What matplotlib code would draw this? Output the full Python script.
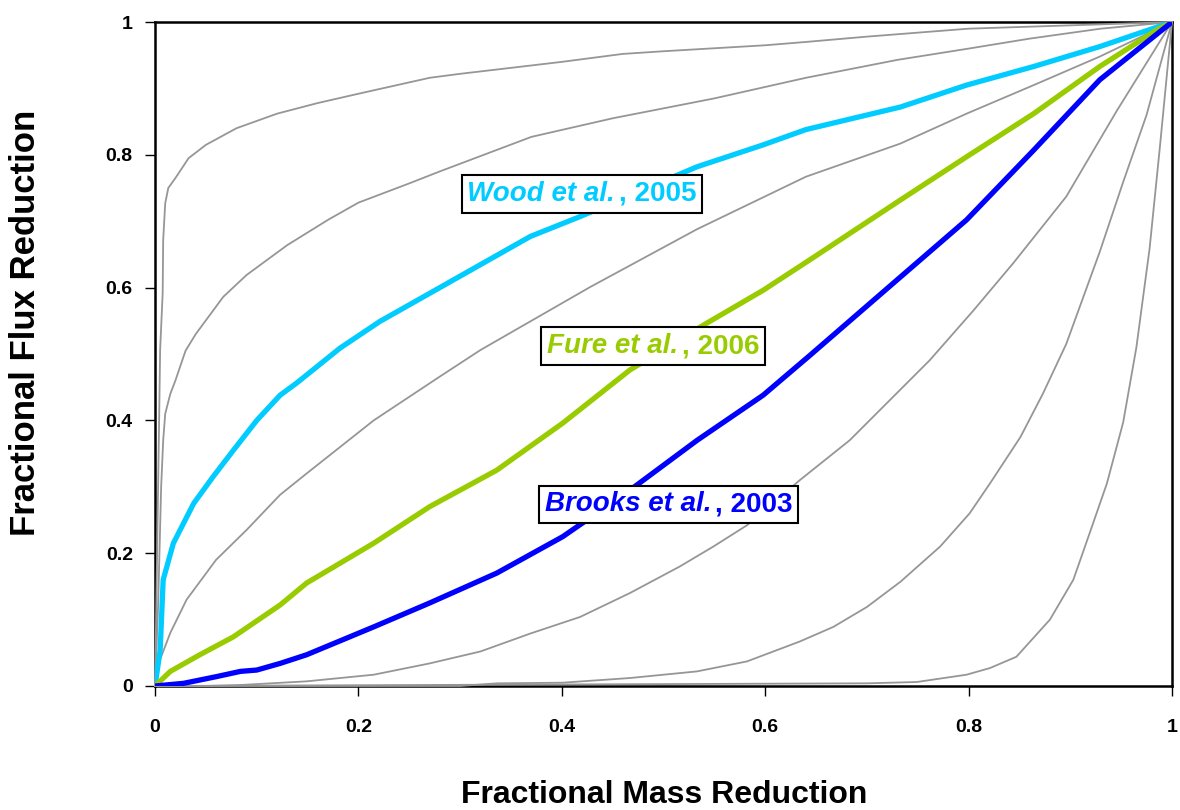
import matplotlib
matplotlib.use('Agg')
import matplotlib.pyplot as plt
from matplotlib.offsetbox import TextArea, HPacker, AnnotationBbox

plt.rcParams['font.family'] = ['Liberation Sans', 'DejaVu Sans']
plt.rcParams['font.weight'] = 'bold'

# gray reference curves
g1_x = [0, 0.002, 0.004, 0.005, 0.0075, 0.008, 0.010, 0.013, 0.02, 0.033, 0.05, 0.08, 0.12, 0.16, 0.2,
        0.27, 0.3, 0.4, 0.46, 0.5, 0.6, 0.64, 0.7, 0.8, 0.9, 0.96, 1.0]
g1_y = [0, 0.2, 0.4, 0.506, 0.592, 0.672, 0.727, 0.75, 0.765, 0.795, 0.815, 0.84, 0.862, 0.878, 0.892,
        0.916, 0.922, 0.94, 0.952, 0.956, 0.965, 0.97, 0.978, 0.99, 0.995, 0.998, 1.0]

g2_x = [0, 0.003, 0.006, 0.008, 0.01, 0.015, 0.02, 0.03, 0.04, 0.067, 0.09, 0.13, 0.17, 0.2, 0.25,
        0.28, 0.37, 0.45, 0.55, 0.64, 0.73, 0.8, 0.86, 0.93, 1.0]
g2_y = [0, 0.12, 0.30, 0.37, 0.41, 0.44, 0.46, 0.505, 0.53, 0.586, 0.619, 0.664, 0.702, 0.728, 0.757,
        0.775, 0.827, 0.855, 0.885, 0.916, 0.943, 0.96, 0.975, 0.99, 1.0]

g3_x = [0, 0.005, 0.015, 0.031, 0.06, 0.09, 0.123, 0.149, 0.215, 0.28, 0.32, 0.428, 0.533, 0.64,
        0.733, 0.798, 0.864, 0.929, 1.0]
g3_y = [0, 0.04, 0.08, 0.13, 0.19, 0.235, 0.288, 0.32, 0.40, 0.466, 0.506, 0.601, 0.688, 0.767,
        0.817, 0.862, 0.905, 0.948, 1.0]

g4_x = [0, 0.05, 0.084, 0.149, 0.215, 0.27, 0.32, 0.369, 0.418, 0.467, 0.516, 0.549, 0.582, 0.634,
        0.683, 0.762, 0.805, 0.844, 0.896, 0.946, 1.0]
g4_y = [0, 0.0, 0.0015, 0.007, 0.017, 0.034, 0.052, 0.079, 0.104, 0.14, 0.18, 0.21, 0.242, 0.31,
        0.37, 0.491, 0.566, 0.637, 0.737, 0.867, 1.0]

g5_x = [0, 0.3, 0.336, 0.401, 0.467, 0.533, 0.582, 0.634, 0.667, 0.70, 0.733, 0.772, 0.801, 0.821,
        0.851, 0.873, 0.896, 0.929, 0.952, 0.975, 1.0]
g5_y = [0, 0.0, 0.004, 0.005, 0.012, 0.022, 0.037, 0.067, 0.089, 0.119, 0.157, 0.21, 0.26, 0.305,
        0.375, 0.44, 0.515, 0.654, 0.759, 0.86, 1.0]

g6_x = [0, 0.70, 0.749, 0.798, 0.821, 0.847, 0.88, 0.903, 0.919, 0.936, 0.952, 0.965, 0.978, 0.988, 1.0]
g6_y = [0, 0.004, 0.006, 0.017, 0.027, 0.044, 0.10, 0.16, 0.23, 0.305, 0.397, 0.51, 0.659, 0.81, 1.0]

# field studies
wood_x = [0, 0.005, 0.008, 0.018, 0.038, 0.057, 0.077, 0.1, 0.123, 0.139, 0.182, 0.221, 0.28, 0.369,
          0.418, 0.533, 0.598, 0.64, 0.733, 0.798, 0.864, 0.929, 1.0]
wood_y = [0, 0.054, 0.16, 0.215, 0.275, 0.315, 0.355, 0.40, 0.438, 0.456, 0.509, 0.549, 0.6, 0.677,
          0.707, 0.782, 0.815, 0.838, 0.872, 0.905, 0.933, 0.963, 1.0]

fure_x = [0, 0.015, 0.044, 0.077, 0.123, 0.149, 0.215, 0.27, 0.336, 0.401, 0.467, 0.542, 0.598, 0.644,
          0.733, 0.798, 0.864, 0.929, 0.985, 1.0]
fure_y = [0, 0.022, 0.047, 0.074, 0.122, 0.155, 0.215, 0.27, 0.325, 0.396, 0.476, 0.546, 0.596, 0.642,
          0.732, 0.797, 0.862, 0.933, 0.988, 1.0]

brooks_x = [0, 0.028, 0.06, 0.084, 0.1, 0.123, 0.149, 0.215, 0.27, 0.336, 0.401, 0.467, 0.533, 0.598,
            0.644, 0.733, 0.798, 0.864, 0.929, 1.0]
brooks_y = [0, 0.004, 0.014, 0.022, 0.024, 0.034, 0.047, 0.089, 0.125, 0.17, 0.225, 0.295, 0.37, 0.438,
            0.498, 0.616, 0.702, 0.807, 0.913, 1.0]

labels = [('Wood et al.', ', 2005', '#00CCFF', 0.42, 0.741),
          ('Fure et al.', ', 2006', '#99CC00', 0.49, 0.512),
          ('Brooks et al.', ', 2003', '#0000FF', 0.505, 0.274)]

fig = plt.figure(figsize=(11.8, 8.1), dpi=100)
ax = fig.add_axes([0.1314, 0.1531, 0.8618, 0.8197])

for gx, gy in [(g1_x, g1_y), (g2_x, g2_y), (g3_x, g3_y), (g4_x, g4_y), (g5_x, g5_y), (g6_x, g6_y)]:
    ax.plot(gx, gy, color='#969696', linewidth=1.3, zorder=3, clip_on=False)

ax.plot(wood_x, wood_y, color='#00CCFF', linewidth=3.8, zorder=4)
ax.plot(fure_x, fure_y, color='#99CC00', linewidth=3.8, zorder=4)
ax.plot(brooks_x, brooks_y, color='#0000FF', linewidth=3.8, zorder=5)

for ital, rest, col, lx, ly in labels:
    t1 = TextArea(ital, textprops=dict(color=col, fontsize=20, fontweight='bold', fontstyle='italic'))
    t2 = TextArea(rest, textprops=dict(color=col, fontsize=20, fontweight='bold'))
    box = HPacker(children=[t1, t2], align='baseline', pad=0, sep=3)
    ab = AnnotationBbox(box, (lx, ly), xycoords='data', frameon=True, pad=0.4, zorder=6,
                        bboxprops=dict(edgecolor='black', facecolor='white', linewidth=1.5))
    ax.add_artist(ab)

ax.set_xlim(0, 1)
ax.set_ylim(0, 1)
ax.set_xticks([0, 0.2, 0.4, 0.6, 0.8, 1])
ax.set_xticklabels(['0', '0.2', '0.4', '0.6', '0.8', '1'])
ax.set_yticks([0, 0.2, 0.4, 0.6, 0.8, 1])
ax.set_yticklabels(['0', '0.2', '0.4', '0.6', '0.8', '1'])
ax.tick_params(axis='x', direction='out', length=7, width=1, pad=17, labelsize=14)
ax.tick_params(axis='y', direction='out', length=7, width=1, pad=9, labelsize=14)
for s in ax.spines.values():
    s.set_linewidth(1.8)
    s.set_color('black')

fig.text(0.563, 0.018, 'Fractional Mass Reduction', fontsize=23, fontweight='bold',
         ha='center', va='center')
fig.text(0.022, 0.601, 'Fractional Flux Reduction', fontsize=25, fontweight='bold',
         ha='center', va='center', rotation=90)

plt.savefig('out.png', dpi=100)
